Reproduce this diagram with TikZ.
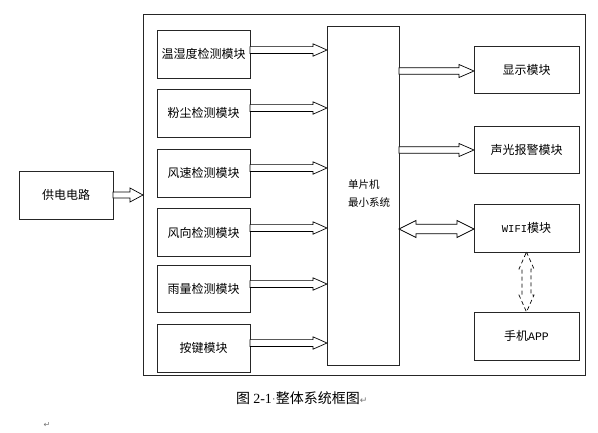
\documentclass[tikz,border=0pt]{standalone}
\usepackage{fontspec}
\newfontfamily\cjk{Noto Sans CJK SC}
\newfontfamily\lmono{Liberation Mono}
\newfontfamily\lserif{Liberation Serif}
\newfontfamily\dejavu{DejaVu Sans}
\usetikzlibrary{calc}
% horizontal hollow arrow: #1 start point, #2 target node, #3 shaft half, #4 head half, #5 head length
\newcommand\harrow[5]{%
  \coordinate (hA) at (#1);
  \coordinate (hB) at (#2.west |- hA);
  \draw[blk] ($(hA)+(0,-#3)$) -- ($(hB)+(-#5,-#3)$) -- ($(hB)+(-#5,-#4)$) -- (hB)
    -- ($(hB)+(-#5,#4)$) -- ($(hB)+(-#5,#3)$) -- ($(hA)+(0,#3)$) -- cycle;}
\begin{document}
\begin{tikzpicture}[x=1pt,y=-1pt,
  box/.style={draw=black!85, line width=0.8pt, inner sep=0pt, outer sep=0pt,
    font=\cjk\fontsize{12}{14}\selectfont, align=center},
  blk/.style={draw=black, line width=0.7pt, fill=white, line join=miter},
  pmark/.style={text=black!55, font=\dejavu\fontsize{8}{8}\selectfont, inner sep=0pt},
]
\useasboundingbox (0,0) rectangle (598,432);
% frame
\node[box, minimum width=442pt, minimum height=361pt] (frame) at (364,194.5) {};
% power
\node[box, minimum width=94pt, minimum height=48pt] (pw) at (66,195) {供电电路};
% left modules
\node[box, minimum width=93pt, minimum height=48pt] (t1) at (203.5,54) {温湿度检测模块};
\node[box, minimum width=93pt, minimum height=48pt] (t2) at (203.5,113) {粉尘检测模块};
\node[box, minimum width=93pt, minimum height=48pt] (t3) at (203.5,173) {风速检测模块};
\node[box, minimum width=93pt, minimum height=48pt] (t4) at (203.5,232.5) {风向检测模块};
\node[box, minimum width=93pt, minimum height=47pt] (t5) at (203.5,288.5) {雨量检测模块};
\node[box, minimum width=93pt, minimum height=48pt] (t6) at (203.5,348) {按键模块};
% mcu
\node[box, minimum width=72pt, minimum height=339pt] (mcu) at (363,195.5) {};
\node[font=\cjk\fontsize{10.5}{18}\selectfont, align=left, inner sep=0pt] (mcut) at (369,194) {单片机\\最小系统};
% right modules
\node[box, minimum width=105pt, minimum height=47pt] (r1) at (526.5,69.5) {显示模块};
\node[box, minimum width=105pt, minimum height=47pt] (r2) at (526.5,149.5) {声光报警模块};
\node[box, minimum width=105pt, minimum height=48pt] (r3) at (526.5,228) {{\lmono\fontsize{10.5}{12}\selectfont WIFI}模块};
\node[box, minimum width=105pt, minimum height=48pt] (r4) at (526.5,336) {手机{\lmono\fontsize{11.5}{12}\selectfont APP}};
% arrows
\harrow{pw.east}{frame}{3}{7}{13}
\harrow{$(t1.east)+(0,-4)$}{mcu}{3.4}{6.2}{14}
\harrow{$(t2.east)+(0,-5)$}{mcu}{3.4}{6.2}{14}
\harrow{$(t3.east)+(0,-5)$}{mcu}{3.4}{6.2}{14}
\harrow{$(t4.east)+(0,-4.5)$}{mcu}{3.4}{6.2}{14}
\harrow{$(t5.east)+(0,-4.5)$}{mcu}{3.4}{6.2}{14}
\harrow{$(t6.east)+(0,-5)$}{mcu}{3.4}{6.2}{14}
\harrow{$(mcu.east |- r1.west)+(0,1.5)$}{r1}{3.3}{6.5}{15}
\harrow{$(mcu.east |- r2.west)+(0,0.5)$}{r2}{3.3}{6.5}{15}
% double arrow mcu <-> wifi
\coordinate (dA) at ($(mcu.east |- r3.west)+(0,1)$);
\coordinate (dB) at (r3.west |- dA);
\draw[blk] (dA) -- ($(dA)+(17,-8.5)$) -- ($(dA)+(17,-4.7)$) -- ($(dB)+(-17,-4.7)$)
  -- ($(dB)+(-17,-8.5)$) -- (dB) -- ($(dB)+(-17,8.5)$) -- ($(dB)+(-17,4.7)$)
  -- ($(dA)+(17,4.7)$) -- ($(dA)+(17,8.5)$) -- cycle;
% dashed double arrow wifi <-> app
\coordinate (vA) at (r3.south);
\coordinate (vB) at (r4.north);
\draw[blk, dash pattern=on 4pt off 3pt] (vA) -- ($(vA)+(7.5,17)$) -- ($(vA)+(4.5,17)$) -- ($(vB)+(4.5,-17)$)
  -- ($(vB)+(7.5,-17)$) -- (vB) -- ($(vB)+(-7.5,-17)$) -- ($(vB)+(-4.5,-17)$)
  -- ($(vA)+(-4.5,17)$) -- ($(vA)+(-7.5,17)$) -- cycle;
% caption
\node[anchor=west, inner sep=0pt, font=\cjk\fontsize{14}{16}\selectfont] (cap) at (236,398)
  {图 {\lserif 2-1}{\color{black!50}\dejavu\fontsize{12}{12}\selectfont ·}整体系统框图{\color{black!55}\dejavu\fontsize{9}{9}\selectfont ↵}};
\node[pmark] (pm) at (47,425) {↵};
\end{tikzpicture}
\end{document}
